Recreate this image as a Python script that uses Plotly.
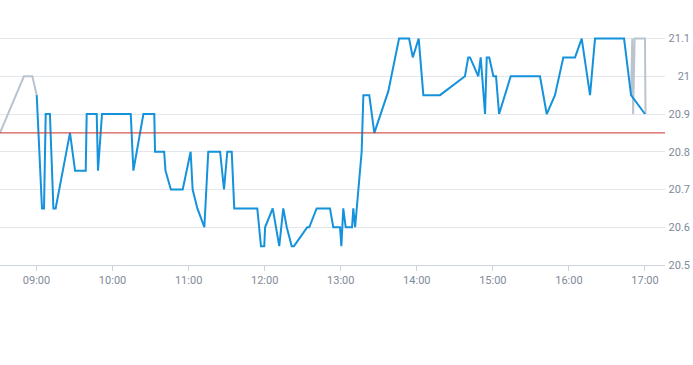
import plotly.graph_objects as go

DAY = "2024-01-02 "

# Regular session (blue)
session_times = [
    "09:00:10", "09:04:20", "09:05:55", "09:07:15", "09:10:35", "09:13:20", "09:15:05",
    "09:25:55", "09:26:25", "09:30:25", "09:38:50", "09:39:35", "09:47:30", "09:48:30",
    "09:51:40", "10:14:20", "10:16:25", "10:24:20", "10:32:55", "10:33:30", "10:40:40",
    "10:41:45", "10:46:00", "10:55:20", "11:01:35", "11:03:10", "11:06:55", "11:12:25",
    "11:15:30", "11:24:50", "11:27:55", "11:30:30", "11:34:00", "11:36:00", "11:54:10",
    "11:57:05", "11:59:40", "12:00:20", "12:06:20", "12:11:30", "12:14:40", "12:17:25",
    "12:21:20", "12:23:05", "12:33:35", "12:35:10", "12:41:00", "12:51:30", "12:54:05",
    "12:59:25", "13:00:30", "13:02:00", "13:03:55", "13:08:55", "13:09:55", "13:11:20",
    "13:16:30", "13:17:50", "13:22:30", "13:26:30", "13:36:20", "13:37:30", "13:46:00",
    "13:53:55", "13:56:50", "14:01:30", "14:05:10", "14:18:20", "14:38:00", "14:40:35",
    "14:42:00", "14:48:30", "14:50:25", "14:53:50", "14:55:10", "14:57:10", "15:00:25",
    "15:02:30", "15:04:55", "15:14:05", "15:37:10", "15:42:30", "15:49:00", "15:55:35",
    "16:04:50", "16:10:05", "16:16:40", "16:20:35", "16:43:30", "16:49:00", "17:00:00",
]
session_prices = [
    20.95, 20.65, 20.65, 20.90, 20.90, 20.65, 20.65,
    20.85, 20.85, 20.75, 20.75, 20.90, 20.90, 20.75,
    20.90, 20.90, 20.75, 20.90, 20.90, 20.80, 20.80,
    20.75, 20.70, 20.70, 20.80, 20.70, 20.65, 20.60,
    20.80, 20.80, 20.70, 20.80, 20.80, 20.65, 20.65,
    20.55, 20.55, 20.60, 20.65, 20.55, 20.65, 20.60,
    20.55, 20.55, 20.60, 20.60, 20.65, 20.65, 20.60,
    20.60, 20.55, 20.65, 20.60, 20.60, 20.65, 20.60,
    20.80, 20.95, 20.95, 20.85, 20.95, 20.96, 21.10,
    21.10, 21.05, 21.10, 20.95, 20.95, 21.00, 21.05,
    21.05, 21.00, 21.05, 20.90, 21.05, 21.05, 21.00,
    21.00, 20.90, 21.00, 21.00, 20.90, 20.95, 21.05,
    21.05, 21.10, 20.95, 21.10, 21.10, 20.95, 20.90,
]

# Extended-hours / off-session trades (grey)
pre_times = ["08:31:12", "08:50:05", "08:56:45", "09:00:10"]
pre_prices = [20.85, 21.00, 21.00, 20.95]
post_times = ["16:49:00", "16:50:00", "16:50:40", "16:51:50", "17:00:00", "17:00:25"]
post_prices = [20.95, 21.10, 20.90, 21.10, 21.10, 20.90]

prev_close = 20.85
y_ticks = [20.5, 20.6, 20.7, 20.8, 20.9, 21.0, 21.1]
x_ticks = ["09:00", "10:00", "11:00", "12:00", "13:00", "14:00", "15:00", "16:00", "17:00"]
x_start, x_end = "08:31:12", "17:15:48"

BLUE = "#1592dc"
GREY = "#b9c4ce"
LABEL = "#7f8a9a"

fig = go.Figure()
fig.add_trace(go.Scatter(x=[DAY + t for t in pre_times], y=pre_prices, mode="lines",
                         line=dict(color=GREY, width=2), hoverinfo="skip"))
fig.add_trace(go.Scatter(x=[DAY + t for t in post_times], y=post_prices, mode="lines",
                         line=dict(color=GREY, width=2), hoverinfo="skip"))
fig.add_trace(go.Scatter(x=[DAY + t for t in session_times], y=session_prices, mode="lines",
                         line=dict(color=BLUE, width=2)))
fig.add_shape(type="line", xref="x domain", x0=0, x1=1, yref="y", y0=prev_close, y1=prev_close,
              line=dict(color="#c92f29", width=1))

fig.update_layout(
    width=693, height=365,
    margin=dict(l=0, r=0, t=31, b=100),
    paper_bgcolor="white", plot_bgcolor="white",
    showlegend=False,
    font=dict(family="Roboto, Liberation Sans, sans-serif", size=11, color=LABEL),
    xaxis=dict(
        domain=[0, 665 / 693],
        range=[DAY + x_start, DAY + x_end],
        tickvals=[DAY + t + ":00" for t in x_ticks],
        ticktext=x_ticks,
        showgrid=False, zeroline=False,
        showline=True, linecolor="#cdd4de", linewidth=1,
        ticks="outside", ticklen=5, tickcolor="#cdd4de",
        tickfont=dict(size=11, color=LABEL),
    ),
    yaxis=dict(
        range=[20.5, 21.12],
        tickvals=y_ticks,
        ticktext=[("%g" % v) for v in y_ticks],
        anchor="free", position=1, side="right",
        ticklabelposition="inside",
        ticklabeloverflow="allow",
        showgrid=True, gridcolor="#e3e6ea", gridwidth=1,
        zeroline=False, showline=False, ticks="",
        tickfont=dict(size=11, color=LABEL),
    ),
)

fig.write_html("out.html")
